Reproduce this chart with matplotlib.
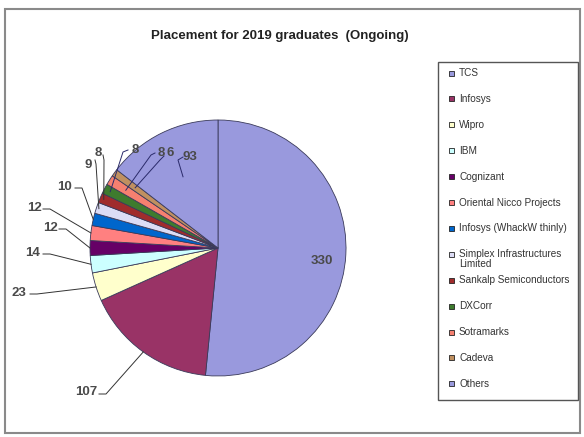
import matplotlib
matplotlib.use("Agg")
import matplotlib.pyplot as plt
from matplotlib.patches import Rectangle
import numpy as np

plt.rcParams['font.family'] = ['Liberation Sans', 'DejaVu Sans']

categories = ["TCS", "Infosys", "Wipro", "IBM", "Cognizant", "Oriental Nicco Projects",
              "Infosys (WhackW thinly)", "Simplex Infrastructures\nLimited",
              "Sankalp Semiconductors", "DXCorr", "Sotramarks", "Cadeva", "Others"]
values = [330, 107, 23, 14, 12, 12, 10, 9, 8, 8, 8, 6, 93]
labels = [str(v) for v in values]
colors = ["#9999DD", "#993366", "#FFFFCC", "#CCFFFF", "#660066", "#FF8080",
          "#0066CC", "#DCDCF5", "#A02C2C", "#3E7B2E", "#F58070", "#C09060", "#9999DD"]
title = "Placement for 2019 graduates  (Ongoing)"

W, H = 584, 437
fig = plt.figure(figsize=(W / 100, H / 100), dpi=100)
fig.patch.set_facecolor("white")

# chart border
fig.patches.append(Rectangle((5 / W, 1 - 433 / H), 575 / W, 424 / H, transform=fig.transFigure,
                             fill=False, edgecolor="#8a8a8a", linewidth=1.5))

# pie axes: center (218,248) px, radius 128 px
cx, cy, R = 218, 248, 128
half = 150
ax = fig.add_axes([(cx - half) / W, (H - cy - half) / H, 2 * half / W, 2 * half / H])
wedges, _ = ax.pie(values, colors=colors, startangle=90, counterclock=False, radius=1.0,
                   wedgeprops=dict(edgecolor="#3a3a5a", linewidth=0.6))
lim = half / R
ax.set_xlim(-lim, lim)
ax.set_ylim(-lim, lim)
ax.set_aspect("equal")
ax.axis("off")


def px2d(px, py):
    return ((px - cx) / R, (cy - py) / R)


# label text centres, leader start and elbow (figure pixel coordinates), leader end radius
label_px = [(322, 261), (86, 392), (19, 293), (33, 253), (50, 228), (34, 208), (65, 187),
            (88, 165), (98, 153), (135, 150), (161, 153), (170, 153), (190, 157)]
lead_start = [None, (99, 394), (30, 294), (43, 254), (59, 229), (43, 209), (75, 188),
              (95, 160), (103, 155), (128, 150), (155, 153), (164, 156), (183, 157)]
lead_elbow = [None, (106, 394), (37, 294), (50, 254), (66, 229), (50, 209), (82, 188),
              (96, 164), (104, 160), (123, 152), (151, 155), (160, 160), (178, 160)]
leader_r = [None, 1.0, 1.0, 1.0, 1.0, 1.0, 1.0, 0.98, 0.97, 0.95, 0.85, 0.8, 0.62]

for i, w in enumerate(wedges):
    mid = np.deg2rad((w.theta1 + w.theta2) / 2)
    tx, ty = px2d(*label_px[i])
    ax.text(tx, ty, labels[i], ha="center", va="center", fontsize=9.5,
            fontweight="bold", color="#4a4a4a", clip_on=False)
    if lead_start[i] is not None:
        r = leader_r[i]
        sx, sy = px2d(*lead_start[i])
        ex, ey = px2d(*lead_elbow[i])
        col = "#333333" if i < 9 else "#2a2a6a"
        ax.plot([sx, ex, r * np.cos(mid)], [sy, ey, r * np.sin(mid)], color=col, lw=0.7,
                clip_on=False, solid_joinstyle="miter")

fig.text(280 / W, 1 - 36 / H, title, ha="center", va="center", fontsize=9.5, fontweight="bold",
         color="#222222")

# legend (drawn manually to match layout)
lx0, ly0, lx1, ly1 = 438, 62, 578, 400
fig.patches.append(Rectangle((lx0 / W, 1 - ly1 / H), (lx1 - lx0) / W, (ly1 - ly0) / H,
                             transform=fig.transFigure, fill=False, edgecolor="#555555",
                             linewidth=1.0))
for i, (cat, c) in enumerate(zip(categories, colors)):
    y = 73 + 25.9 * i
    fig.patches.append(Rectangle((449 / W, 1 - (y + 2.5) / H), 5 / W, 5 / H,
                                 transform=fig.transFigure, facecolor=c, edgecolor="#222222",
                                 linewidth=0.6))
    if "\n" in cat:
        fig.text(459 / W, 1 - (y - 5) / H, cat, ha="left", va="top", fontsize=7.2,
                 color="#333333", linespacing=0.95)
    else:
        fig.text(459 / W, 1 - y / H, cat, ha="left", va="center", fontsize=7.2,
                 color="#333333")

fig.savefig("out.png", dpi=100)
